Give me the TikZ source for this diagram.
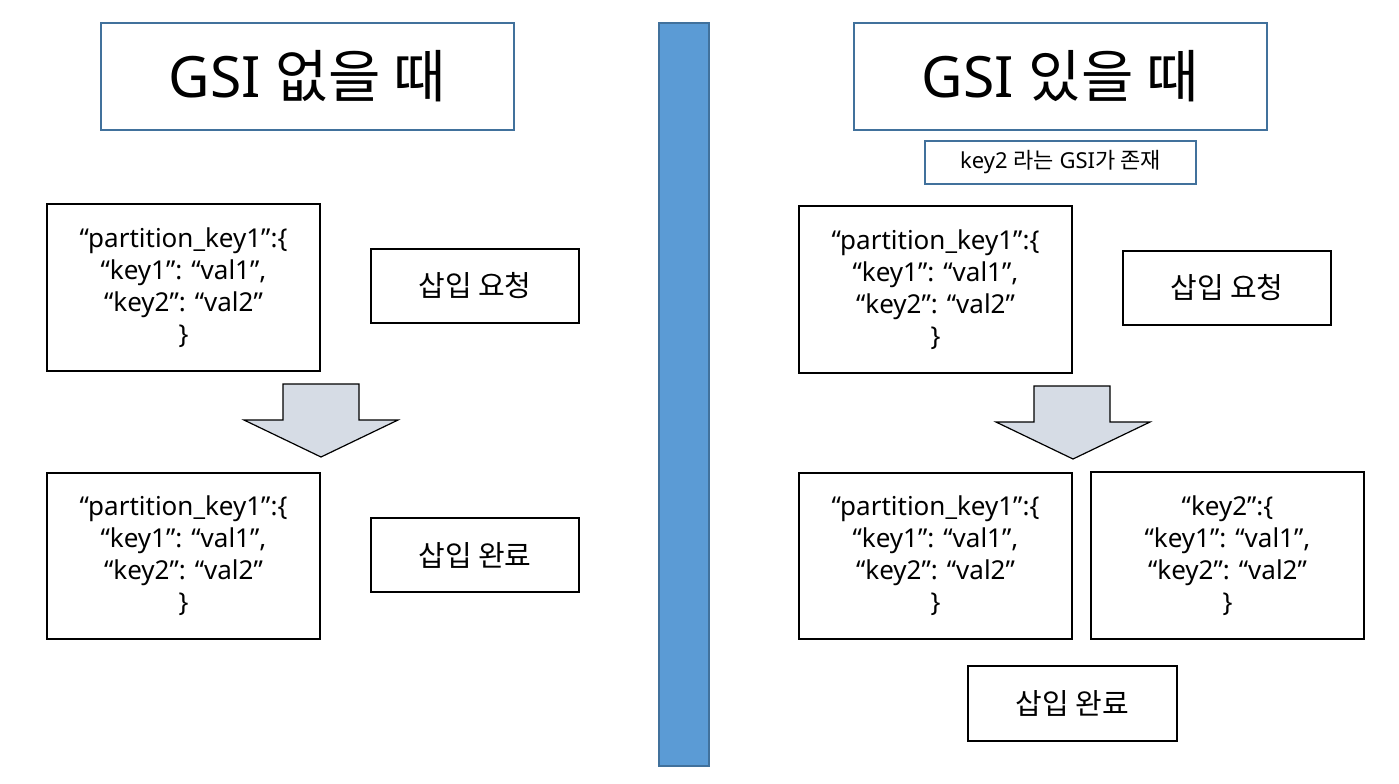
\documentclass[tikz,border=0pt]{standalone}
\usepackage{fontspec}
\setmainfont{Noto Sans}
\newfontfamily\kr{Noto Sans CJK KR}
\definecolor{bordblue}{HTML}{41719C}
\definecolor{barblue}{HTML}{5B9BD5}
\definecolor{arrowfill}{HTML}{D6DCE5}
\begin{document}
\begin{tikzpicture}[x=0.5pt,y=-0.5pt,
  titlebox/.style={draw=bordblue,line width=1pt,fill=white,minimum width=206.5pt,minimum height=53.5pt,inner sep=0pt,font=\fontsize{28.5}{32}\selectfont},
  labelbox/.style={draw=bordblue,line width=1pt,minimum width=135.5pt,minimum height=21.5pt,inner sep=0pt,font=\fontsize{11}{13}\selectfont},
  databox/.style={draw=black,line width=0.9pt,minimum width=136.5pt,minimum height=83.5pt,inner sep=0pt,align=center,font=\fontsize{13}{16}\selectfont},
  msgbox/.style={draw=black,line width=0.9pt,minimum width=104pt,minimum height=37pt,inner sep=0pt,font=\fontsize{14.5}{16}\selectfont},
  bararrow/.style={draw=black,line width=0.6pt,fill=arrowfill,line join=miter}
]
\useasboundingbox (0,0) rectangle (1399,783);
\fill[white] (0,0) rectangle (1399,783);

% center separator bar
\node[draw=bordblue,line width=1pt,fill=barblue,minimum width=25pt,minimum height=371.5pt,inner sep=0pt] (bar) at (684,394.5) {};

% left side
\node[titlebox] (ltitle) at (307.5,76.5) {GSI {\kr 없을 때}};
\node[databox] (lbox1) at (183.5,287.5) {“partition\_key1”:\{\\“key1”: “val1”,\\“key2”: “val2”\\\}};
\node[msgbox] (lreq) at (475,286) {\kr 삽입 요청};
\draw[bararrow] (283,384) -- (359,384) -- (359,420) -- (398,420) -- (321,457) -- (244,420) -- (283,420) -- cycle;
\node[databox,minimum height=83pt] (lbox2) at (183.5,556) {“partition\_key1”:\{\\“key1”: “val1”,\\“key2”: “val2”\\\}};
\node[msgbox] (ldone) at (475,555) {\kr 삽입 완료};

% right side
\node[titlebox] (rtitle) at (1060.5,76.5) {GSI {\kr 있을 때}};
\node[labelbox] (rlabel) at (1060.5,162.5) {key2 {\kr 라는} GSI{\kr 가 존재}};
\node[databox] (rbox1) at (935.5,289.5) {“partition\_key1”:\{\\“key1”: “val1”,\\“key2”: “val2”\\\}};
\node[msgbox] (rreq) at (1227,288) {\kr 삽입 요청};
\draw[bararrow] (1034,386) -- (1110,386) -- (1110,422) -- (1150,422) -- (1073,459) -- (996,422) -- (1034,422) -- cycle;
\node[databox,minimum height=83pt] (rbox2) at (935.5,556) {“partition\_key1”:\{\\“key1”: “val1”,\\“key2”: “val2”\\\}};
\node[databox] (rkey2) at (1227.5,555.5) {“key2”:\{\\“key1”: “val1”,\\“key2”: “val2”\\\}};
\node[msgbox,minimum width=104.5pt,minimum height=37.5pt] (rdone) at (1072.5,703.5) {\kr 삽입 완료};
\end{tikzpicture}
\end{document}
